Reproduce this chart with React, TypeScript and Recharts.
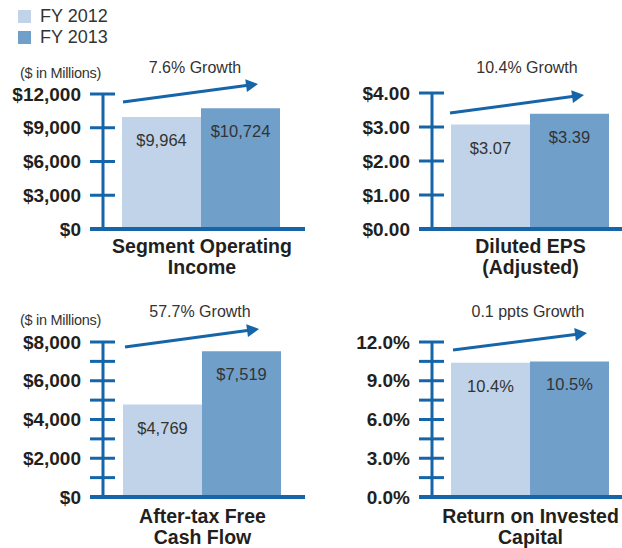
import { Bar, BarChart, LabelList, XAxis, YAxis } from 'recharts'

const SERIES = ['FY 2012', 'FY 2013']
const COLORS = ['#c0d3e8', '#709fca']
const BLUE = '#1565a8'
const INK = '#231f20'
const FONT = '"Liberation Sans", Arial, Helvetica, sans-serif'

const METRIC_LINES = [
  ['Segment Operating', 'Income'],
  ['Diluted EPS', '(Adjusted)'],
  ['After-tax Free', 'Cash Flow'],
  ['Return on Invested', 'Capital'],
]
const FY2012 = [9964, 3.07, 4769, 10.4]
const FY2013 = [10724, 3.39, 7519, 10.5]
const GROWTH = ['7.6% Growth', '10.4% Growth', '57.7% Growth', '0.1 ppts Growth']
const UNITS = ['($ in Millions)', '', '($ in Millions)', '']
const TICKS = [
  [0, 3000, 6000, 9000, 12000],
  [0, 1, 2, 3, 4],
  [0, 1000, 2000, 3000, 4000, 5000, 6000, 7000, 8000],
  [0, 1.5, 3, 4.5, 6, 7.5, 9, 10.5, 12],
]
const LABEL_EVERY = [1, 1, 2, 2]

const money = (v: number) => '$' + v.toLocaleString('en-US')
const eps = (v: number) => '$' + v.toFixed(2)
const pct = (v: number) => v.toFixed(1) + '%'
const FORMATS = [money, eps, money, pct]

// layout of the four panels on the page
const PANELS = [
  { left: 0, top: 0, width: 311, height: 290, axisW: 103, mTop: 94, mRight: 6, xH: 55, pad: { left: 19, right: 25 }, catY: 17, unitY: 73, growthX: 195, growthY: 67, arrow: [123, 102, 258, 84] },
  { left: 311, top: 0, width: 311, height: 290, axisW: 121, mTop: 93, mRight: 0, xH: 55, pad: { left: 19, right: 14 }, catY: 17, unitY: 0, growthX: 527, growthY: 67, arrow: [450, 113, 584, 95] },
  { left: 0, top: 290, width: 311, height: 258, axisW: 103, mTop: 52, mRight: 6, xH: 45, pad: { left: 20, right: 25 }, catY: 19, unitY: 320, growthX: 200, growthY: 311, arrow: [125, 347, 259, 329] },
  { left: 311, top: 290, width: 311, height: 258, axisW: 121, mTop: 52, mRight: 0, xH: 45, pad: { left: 19, right: 14 }, catY: 19, unitY: 0, growthX: 528, growthY: 311, arrow: [453, 350, 587, 333] },
]

function Panel({ i }: { i: number }) {
  const p = PANELS[i]
  const fmt = FORMATS[i]
  const ticks = TICKS[i]
  const data = [{ name: METRIC_LINES[i].join(' '), fy2012: FY2012[i], fy2013: FY2013[i] }]
  const axisX = p.axisW

  const yTick = (t: any) => {
    const v = t.payload.value as number
    const idx = ticks.indexOf(v)
    const showLabel = idx % LABEL_EVERY[i] === 0
    return (
      <g>
        <line x1={axisX - 13} x2={axisX + 12} y1={t.y} y2={t.y} stroke={BLUE} strokeWidth={3} />
        {v === 0 && <line x1={axisX - 13} x2={axisX + 2} y1={t.y} y2={t.y} stroke={BLUE} strokeWidth={4} />}
        {showLabel && (
          <text x={axisX - 22} y={t.y} textAnchor="end" dominantBaseline="central" fontFamily={FONT} fontWeight="bold" fontSize={19} fill={INK}>
            {fmt(v)}
          </text>
        )}
      </g>
    )
  }

  const xTick = (t: any) => (
    <text x={t.x} textAnchor="middle" fontFamily={FONT} fontWeight="bold" fontSize={19.5} fill={INK}>
      {METRIC_LINES[i].map((line, k) => (
        <tspan key={line} x={t.x + 1} y={t.y + p.catY + k * 21} dominantBaseline="central">
          {line}
        </tspan>
      ))}
    </text>
  )

  const valueLabel = (l: any) => (
    <text x={l.x + l.width / 2} y={l.y + 23} textAnchor="middle" dominantBaseline="central" fontFamily={FONT} fontSize={16.5} fill="#333">
      {fmt(l.value)}
    </text>
  )

  return (
    <div style={{ position: 'absolute', left: p.left, top: p.top }}>
      <BarChart
        width={p.width}
        height={p.height}
        data={data}
        margin={{ top: p.mTop, right: p.mRight, bottom: 6, left: 0 }}
        barCategoryGap={0}
        barGap={0}
        style={{ overflow: 'visible' }}
      >
        <Bar dataKey="fy2012" name={SERIES[0]} fill={COLORS[0]} isAnimationActive={false}>
          <LabelList dataKey="fy2012" content={valueLabel} />
        </Bar>
        <Bar dataKey="fy2013" name={SERIES[1]} fill={COLORS[1]} isAnimationActive={false}>
          <LabelList dataKey="fy2013" content={valueLabel} />
        </Bar>
        <XAxis
          dataKey="name"
          height={p.xH}
          padding={p.pad}
          axisLine={{ stroke: BLUE, strokeWidth: 4 }}
          tickLine={false}
          tickSize={0}
          tickMargin={0}
          tick={xTick}
          interval={0}
        />
        <YAxis
          width={p.axisW}
          domain={[0, ticks[ticks.length - 1]]}
          ticks={ticks}
          interval={0}
          axisLine={{ stroke: BLUE, strokeWidth: 3 }}
          tickLine={false}
          tick={yTick}
        />
      </BarChart>
    </div>
  )
}

function arrowHead(x1: number, y1: number, x2: number, y2: number) {
  const dx = x2 - x1
  const dy = y2 - y1
  const len = Math.hypot(dx, dy)
  const ux = dx / len
  const uy = dy / len
  const bx = x2 - ux * 12
  const by = y2 - uy * 12
  const w = 6.5
  return {
    line: [x1, y1, x2 - ux * 10, y2 - uy * 10],
    poly: `${x2},${y2} ${bx - uy * w},${by + ux * w} ${bx + uy * w},${by - ux * w}`,
  }
}

export default function App() {
  return (
    <div style={{ position: 'absolute', left: 0, top: 0, width: 622, height: 548, background: '#fff', fontFamily: FONT }}>
      {PANELS.map((_, i) => (
        <Panel key={i} i={i} />
      ))}

      <svg width={622} height={548} style={{ position: 'absolute', left: 0, top: 0, pointerEvents: 'none' }}>
        {PANELS.map((p, i) => {
          const a = arrowHead(p.arrow[0], p.arrow[1], p.arrow[2], p.arrow[3])
          return (
            <g key={i}>
              <line x1={a.line[0]} y1={a.line[1]} x2={a.line[2]} y2={a.line[3]} stroke={BLUE} strokeWidth={3} />
              <polygon points={a.poly} fill={BLUE} />
              <text x={p.growthX} y={p.growthY} textAnchor="middle" dominantBaseline="central" fontFamily={FONT} fontSize={16} fill="#333">
                {GROWTH[i]}
              </text>
              {UNITS[i] && (
                <text x={20} y={p.unitY} dominantBaseline="central" fontFamily={FONT} fontSize={14.5} letterSpacing={-0.3} fill="#333">
                  {UNITS[i]}
                </text>
              )}
            </g>
          )
        })}
      </svg>

      {SERIES.map((s, k) => (
        <div key={s} style={{ position: 'absolute', left: 18, top: 9 + k * 21, display: 'flex', alignItems: 'center', height: 14 }}>
          <div style={{ width: 13, height: 13, background: COLORS[k] }} />
          <span style={{ marginLeft: 9, fontSize: 18, color: '#333', lineHeight: '14px' }}>{s}</span>
        </div>
      ))}
    </div>
  )
}
